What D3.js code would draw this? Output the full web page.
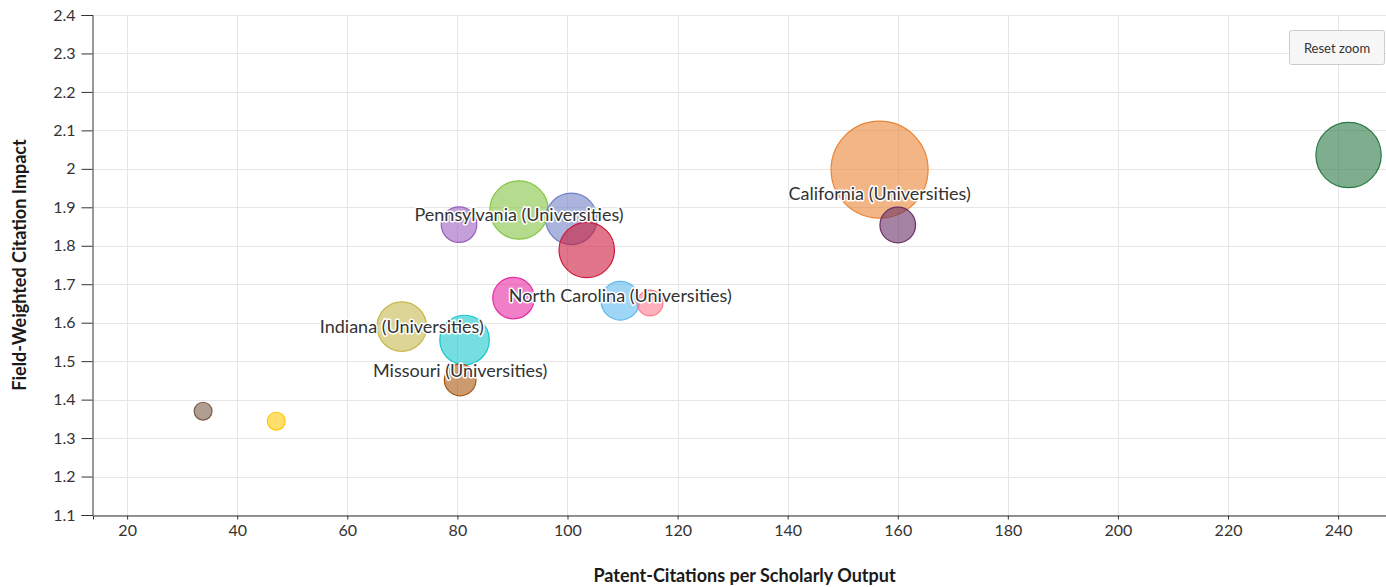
<!DOCTYPE html>
<html>
<head>
<meta charset="utf-8">
<script src="https://cdn.jsdelivr.net/npm/d3@7"></script>
<style>
  html, body { margin: 0; padding: 0; background: #fff; }
  svg { display: block; font-family: Lato, "Open Sans", sans-serif; }
</style>
</head>
<body>
<svg id="chart" width="1386" height="587"></svg>
<script>
// ---- data ----
const names = [
  "Bubble A", "Bubble B", "Indiana (Universities)", "Bubble D", "Bubble E",
  "Missouri (Universities)", "Pennsylvania (Universities)", "Bubble H", "Bubble I", "Bubble J",
  "North Carolina (Universities)", "Bubble L", "California (Universities)", "Bubble N", "Bubble O"
];
const patentCitations = [33.8, 47.1, 69.9, 80.3, 81.3, 80.5, 91.2, 90.2, 100.7, 103.5, 109.6, 115.0, 156.7, 160.0, 241.9];
const fwci            = [1.370, 1.344, 1.590, 1.855, 1.555, 1.451, 1.893, 1.664, 1.870, 1.789, 1.657, 1.651, 1.998, 1.854, 2.036];
const bubbleSize      = [81, 81, 625, 324, 625, 256, 870, 441, 676, 784, 380, 169, 2401, 324, 1089];
const colors = ["#7b5d4a", "#ffc808", "#c6b94e", "#9b61be", "#17c8cb", "#a8560f", "#84c543", "#e62aa3",
                "#7182c6", "#cd193a", "#5fb9ee", "#ff7b8e", "#e98435", "#693067", "#2a7843"];
const labeled = ["Indiana (Universities)", "Missouri (Universities)", "Pennsylvania (Universities)",
                 "North Carolina (Universities)", "California (Universities)"];
const xTicks = [20, 40, 60, 80, 100, 120, 140, 160, 180, 200, 220, 240];
const yTicks = [1.1, 1.2, 1.3, 1.4, 1.5, 1.6, 1.7, 1.8, 1.9, 2, 2.1, 2.2, 2.3, 2.4];
const xTitle = "Patent-Citations per Scholarly Output";
const yTitle = "Field-Weighted Citation Impact";

// ---- layout ----
const svg = d3.select("#chart");
const plot = { left: 93, right: 1386, top: 15, bottom: 515 };

const x = d3.scaleLinear().domain([13.8, 248.7]).range([plot.left, plot.right]);
const y = d3.scaleLinear().domain([1.1, 2.4]).range([plot.bottom, plot.top]);
const r = d3.scaleSqrt().domain([0, d3.max(bubbleSize)]).range([0, 48.5]);

// grid
const grid = svg.append("g");
grid.selectAll("line.v").data(xTicks).join("line")
  .attr("x1", d => Math.round(x(d)) + 0.5).attr("x2", d => Math.round(x(d)) + 0.5)
  .attr("y1", plot.top).attr("y2", plot.bottom)
  .attr("stroke", "#e6e6e6").attr("stroke-width", 1);
grid.selectAll("line.h").data(yTicks).join("line")
  .attr("x1", plot.left).attr("x2", plot.right)
  .attr("y1", d => Math.round(y(d)) + 0.5).attr("y2", d => Math.round(y(d)) + 0.5)
  .attr("stroke", "#e6e6e6").attr("stroke-width", 1);

// axes
const xAxis = d3.axisBottom(x).tickValues(xTicks).tickSize(4).tickPadding(5).tickFormat(d3.format("d"));
const yAxis = d3.axisLeft(y).tickValues(yTicks).tickSize(11).tickPadding(6).tickFormat(d => String(+d.toFixed(1)));

const gx = svg.append("g").attr("transform", `translate(0,${plot.bottom + 0.5})`).call(xAxis);
const gy = svg.append("g").attr("transform", `translate(${plot.left - 0.5},0)`).call(yAxis);
[gx, gy].forEach(g => {
  g.select(".domain").attr("stroke", "#333");
  g.selectAll(".tick line").attr("stroke", "#333");
  g.selectAll(".tick text").attr("fill", "#333").style("font-size", "16px").style("font-family", "Lato, sans-serif");
});

// axis titles
svg.append("text")
  .attr("x", (plot.left + plot.right) / 2 + 5).attr("y", 582)
  .attr("text-anchor", "middle")
  .style("font-size", "18px").style("font-weight", "bold").attr("fill", "#1a1a1a")
  .text(xTitle);
svg.append("text")
  .attr("transform", `translate(26,${(plot.top + plot.bottom) / 2}) rotate(-90)`)
  .attr("text-anchor", "middle")
  .style("font-size", "18px").style("font-weight", "bold").attr("fill", "#1a1a1a")
  .text(yTitle);

// bubbles
const data = names.map((n, i) => ({ name: n, x: patentCitations[i], y: fwci[i], z: bubbleSize[i], c: colors[i] }));
svg.append("g").selectAll("circle").data(data).join("circle")
  .attr("cx", d => x(d.x)).attr("cy", d => y(d.y)).attr("r", d => r(d.z))
  .attr("fill", d => d.c).attr("fill-opacity", 0.6)
  .attr("stroke", d => d.c).attr("stroke-width", 1.2);

// data labels (vertical nudges mimic overlap avoidance)
const labelNudge = {
  "Indiana (Universities)": 6,
  "Missouri (Universities)": -3,
  "Pennsylvania (Universities)": 11,
  "North Carolina (Universities)": 1,
  "California (Universities)": 30
};
svg.append("g").selectAll("text").data(data.filter(d => labeled.includes(d.name))).join("text")
  .attr("x", d => x(d.x)).attr("y", d => y(d.y) + labelNudge[d.name])
  .attr("text-anchor", "middle")
  .style("font-size", "18px")
  .attr("fill", "#333")
  .attr("stroke", "#fff").attr("stroke-width", 3).attr("stroke-linejoin", "round")
  .attr("paint-order", "stroke")
  .text(d => d.name);

// reset zoom button
const btn = svg.append("g").attr("transform", "translate(1289.5,30.5)");
btn.append("rect").attr("width", 95).attr("height", 34).attr("rx", 2)
  .attr("fill", "#f7f7f7").attr("stroke", "#cccccc");
btn.append("text").attr("x", 47.5).attr("y", 22).attr("text-anchor", "middle")
  .style("font-size", "13px").attr("fill", "#333").text("Reset zoom");
</script>
</body>
</html>
